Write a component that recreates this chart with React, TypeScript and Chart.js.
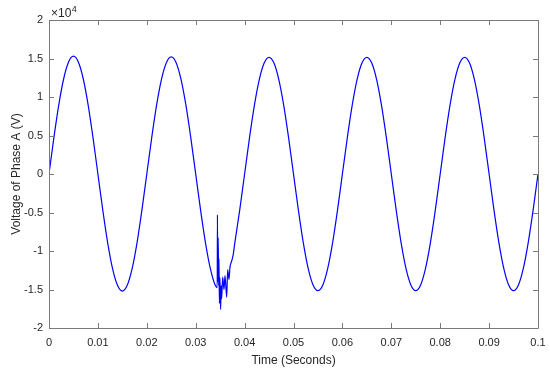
import React, { useEffect, useRef } from "react";
import { Chart, registerables } from "chart.js";

Chart.register(...registerables);

// Time samples (s)
const timeBase: number[] = [
  0, 0.001, 0.002, 0.003, 0.004, 0.005, 0.006, 0.007, 0.008, 0.009,
  0.010, 0.011, 0.012, 0.013, 0.014, 0.015, 0.016, 0.017, 0.018, 0.019,
  0.020, 0.021, 0.022, 0.023, 0.024, 0.025, 0.026, 0.027, 0.028, 0.029,
  0.030, 0.031, 0.032, 0.033, 0.034,
];
const voltBase: number[] = [
  0, 4720, 8980, 12370, 14540, 15300, 14540, 12370, 8980, 4720,
  0, -4700, -8940, -12300, -14460, -15200, -14460, -12300, -8940, -4700,
  0, 4700, 8940, 12300, 14460, 15200, 14460, 12300, 8940, 4700,
  0, -4700, -8940, -12300, -14460,
];

// Fault transient
const timeFault: number[] = [
  0.0344, 0.03445, 0.0345, 0.0346, 0.0347, 0.03475, 0.03485, 0.03495,
  0.0351, 0.0352, 0.0353, 0.03552, 0.03579, 0.03599, 0.03634, 0.03654,
  0.03681, 0.03701, 0.03736, 0.03769,
];
const voltFault: number[] = [
  -14750, -5300, -14000, -8300, -14500, -11000, -16800, -13500,
  -17600, -14500, -16200, -13400, -15000, -13200, -16000, -12400,
  -13700, -12100, -11300, -10400,
];

const timeAfter: number[] = [
  0.038, 0.039, 0.040, 0.041, 0.042, 0.043, 0.044, 0.045, 0.046, 0.047, 0.048, 0.049,
  0.050, 0.051, 0.052, 0.053, 0.054, 0.055, 0.056, 0.057, 0.058, 0.059,
  0.060, 0.061, 0.062, 0.063, 0.064, 0.065, 0.066, 0.067, 0.068, 0.069,
  0.070, 0.071, 0.072, 0.073, 0.074, 0.075, 0.076, 0.077, 0.078, 0.079,
  0.080, 0.081, 0.082, 0.083, 0.084, 0.085, 0.086, 0.087, 0.088, 0.089,
  0.090, 0.091, 0.092, 0.093, 0.094, 0.095, 0.096, 0.097, 0.098, 0.099, 0.100,
];
const voltAfter: number[] = [
  -8940, -4700, 0, 4690, 8910, 12260, 14410, 15150, 14410, 12260, 8910, 4690,
  0, -4690, -8910, -12260, -14410, -15150, -14410, -12260, -8910, -4690,
  0, 4690, 8910, 12260, 14410, 15150, 14410, 12260, 8910, 4690,
  0, -4690, -8910, -12260, -14410, -15150, -14410, -12260, -8910, -4690,
  0, 4690, 8910, 12260, 14410, 15150, 14410, 12260, 8910, 4690,
  0, -4690, -8910, -12260, -14410, -15150, -14410, -12260, -8910, -4690, 0,
];

const xTickValues: number[] = [0, 0.01, 0.02, 0.03, 0.04, 0.05, 0.06, 0.07, 0.08, 0.09, 0.1];
const xTickLabels: string[] = ["0", "0.01", "0.02", "0.03", "0.04", "0.05", "0.06", "0.07", "0.08", "0.09", "0.1"];
const yTickValues: number[] = [-20000, -15000, -10000, -5000, 0, 5000, 10000, 15000, 20000];
const yTickLabels: string[] = ["-2", "-1.5", "-1", "-0.5", "0", "0.5", "1", "1.5", "2"];

const AXIS_COLOR = "#262626";
const FONT = "Liberation Sans, Arial, Helvetica, sans-serif";

const boxPlugin = {
  id: "matlabBox",
  afterDatasetsDraw(chart: any) {
    const { ctx, chartArea } = chart;
    const { left, right, top, bottom } = chartArea;
    const xs = chart.scales.x;
    const ys = chart.scales.y;
    ctx.save();
    ctx.strokeStyle = "#7a7a7a";
    ctx.lineWidth = 1;
    ctx.beginPath();
    ctx.rect(Math.round(left) + 0.5, Math.round(top) + 0.5, Math.round(right - left), Math.round(bottom - top));
    ctx.stroke();
    const tl = 5;
    ctx.beginPath();
    xTickValues.forEach((v) => {
      const px = Math.round(xs.getPixelForValue(v)) + 0.5;
      ctx.moveTo(px, bottom);
      ctx.lineTo(px, bottom - tl);
      ctx.moveTo(px, top);
      ctx.lineTo(px, top + tl);
    });
    yTickValues.forEach((v) => {
      const py = Math.round(ys.getPixelForValue(v)) + 0.5;
      ctx.moveTo(left, py);
      ctx.lineTo(left + tl, py);
      ctx.moveTo(right, py);
      ctx.lineTo(right - tl, py);
    });
    ctx.stroke();
    // exponent label
    ctx.fillStyle = AXIS_COLOR;
    ctx.textBaseline = "alphabetic";
    ctx.textAlign = "left";
    ctx.font = `12px ${FONT}`;
    ctx.fillText("\u00d710", left + 2, top - 3);
    const w = ctx.measureText("\u00d710").width;
    ctx.font = `9px ${FONT}`;
    ctx.fillText("4", left + 2 + w + 0.5, top - 8);
    ctx.restore();
  },
};

export default function App() {
  const ref = useRef<HTMLCanvasElement | null>(null);
  useEffect(() => {
    document.body.style.margin = "0";
    const canvas = ref.current!;
    const times = [...timeBase, ...timeFault, ...timeAfter];
    const volts = [...voltBase, ...voltFault, ...voltAfter];
    const data = times.map((t, i) => ({ x: t, y: volts[i] }));
    const chart = new Chart(canvas, {
      type: "line",
      data: {
        datasets: [
          {
            data,
            borderColor: "#0000ff",
            borderWidth: 1.2,
            pointRadius: 0,
            cubicInterpolationMode: "monotone",
            fill: false,
          },
        ],
      },
      options: {
        animation: false,
        responsive: false,
        maintainAspectRatio: false,
        layout: { padding: { top: 20, right: 12, left: 0, bottom: 0 } },
        plugins: { legend: { display: false }, tooltip: { enabled: false } },
        scales: {
          x: {
            type: "linear",
            min: 0,
            max: 0.1,
            afterBuildTicks: (s: any) => {
              s.ticks = xTickValues.map((v) => ({ value: v }));
            },
            afterFit: (s: any) => {
              s.height = 40;
              s.paddingLeft = 0;
              s.paddingRight = 0;
            },
            ticks: {
              autoSkip: false,
              maxRotation: 0,
              padding: 8,
              color: AXIS_COLOR,
              font: { size: 11, family: FONT },
              callback: (v: any) => {
                const i = xTickValues.findIndex((t) => Math.abs(t - v) < 1e-9);
                return i >= 0 ? xTickLabels[i] : "";
              },
            },
            grid: { display: false, drawTicks: false },
            border: { display: false },
            title: {
              display: true,
              text: "Time (Seconds)",
              color: AXIS_COLOR,
              font: { size: 12, family: FONT },
              padding: { top: 4, bottom: 0 },
            },
          },
          y: {
            type: "linear",
            min: -20000,
            max: 20000,
            afterBuildTicks: (s: any) => {
              s.ticks = yTickValues.map((v) => ({ value: v }));
            },
            afterFit: (s: any) => {
              s.width = 49;
              s.paddingTop = 0;
              s.paddingBottom = 0;
            },
            ticks: {
              autoSkip: false,
              padding: 6,
              color: AXIS_COLOR,
              font: { size: 11, family: FONT },
              callback: (v: any) => {
                const i = yTickValues.indexOf(Number(v));
                return i >= 0 ? yTickLabels[i] : "";
              },
            },
            grid: { display: false, drawTicks: false },
            border: { display: false },
            title: {
              display: true,
              text: "Voltage of Phase A (V)",
              color: AXIS_COLOR,
              font: { size: 12, family: FONT },
              padding: { top: 9.5, bottom: 0 },
            },
          },
        },
      },
      plugins: [boxPlugin],
    });
    return () => chart.destroy();
  }, []);
  return <canvas ref={ref} width={550} height={368} style={{ display: "block" }} />;
}
